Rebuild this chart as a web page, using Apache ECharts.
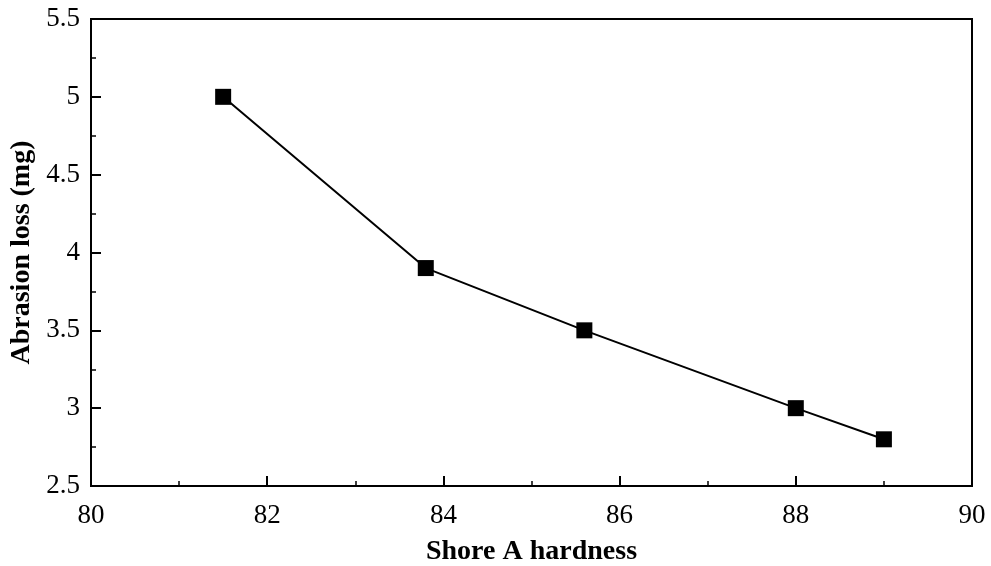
<!DOCTYPE html>
<html>
<head>
<meta charset="utf-8">
<script src="https://cdn.jsdelivr.net/npm/echarts@6/dist/echarts.min.js"></script>
<style>
  html, body { margin: 0; padding: 0; background: #fff; }
  #chart { width: 991px; height: 566px; }
</style>
</head>
<body>
<div id="chart"></div>
<script>
// Shore A hardness vs. abrasion loss
const hardness = [81.5, 83.8, 85.6, 88.0, 89.0];
const abrasionLoss = [5.0, 3.9, 3.5, 3.0, 2.8];
const xTitle = 'Shore A hardness';
const yTitle = 'Abrasion loss (mg)';

const font = 'Liberation Serif, Times New Roman, serif';
const points = hardness.map((h, i) => [h, abrasionLoss[i]]);

const chart = echarts.init(document.getElementById('chart'), null, { renderer: 'canvas' });
chart.setOption({
  animation: false,
  backgroundColor: '#ffffff',
  grid: {
    left: 91, right: 19, top: 19, bottom: 80,
    outerBoundsMode: 'none',
    containLabel: false,
    show: true, borderColor: '#000', borderWidth: 2, backgroundColor: 'transparent'
  },
  xAxis: {
    type: 'value',
    min: 80, max: 90, interval: 2,
    name: xTitle,
    nameLocation: 'middle',
    nameGap: 52,
    nameTextStyle: { fontFamily: font, fontWeight: 'bold', fontSize: 28, color: '#000' },
    axisLine: { show: true, lineStyle: { color: '#000', width: 2 } },
    axisTick: { show: true, inside: true, length: 10, lineStyle: { color: '#000', width: 2 } },
    minorTick: { show: true, splitNumber: 2, length: 5, lineStyle: { color: '#000', width: 1.5 } },
    axisLabel: { fontFamily: font, fontSize: 27, color: '#000', margin: 16 },
    splitLine: { show: false }
  },
  yAxis: {
    type: 'value',
    min: 2.5, max: 5.5, interval: 0.5,
    name: yTitle,
    nameLocation: 'middle',
    nameGap: 55,
    nameRotate: 90,
    nameTextStyle: { fontFamily: font, fontWeight: 'bold', fontSize: 28, color: '#000' },
    axisLine: { show: true, lineStyle: { color: '#000', width: 2 } },
    axisTick: { show: true, inside: true, length: 10, lineStyle: { color: '#000', width: 2 } },
    minorTick: { show: true, splitNumber: 2, length: 5, lineStyle: { color: '#000', width: 1.5 } },
    axisLabel: { fontFamily: font, fontSize: 27, color: '#000', margin: 11 },
    splitLine: { show: false }
  },
  series: [{
    type: 'line',
    data: points,
    symbol: 'rect',
    symbolSize: 16,
    itemStyle: { color: '#000' },
    lineStyle: { color: '#000', width: 2 }
  }]
});
</script>
</body>
</html>
